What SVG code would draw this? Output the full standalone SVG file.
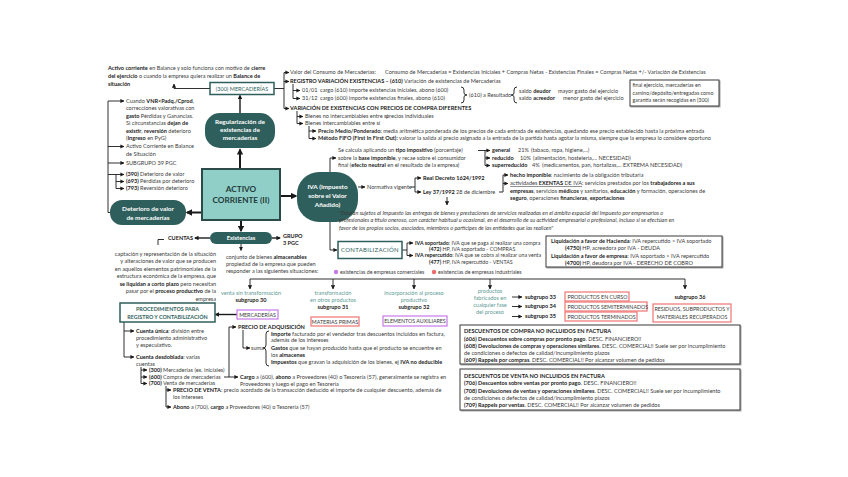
<svg xmlns="http://www.w3.org/2000/svg" width="848" height="477" viewBox="0 0 848 477">
<defs>
<marker id="ah" viewBox="0 0 10 10" refX="9" refY="5" markerWidth="4.5" markerHeight="4.5" orient="auto"><path d="M0,0L10,5L0,10z" fill="#1a1a1a"/></marker>
<marker id="ah2" viewBox="0 0 10 10" refX="8" refY="5" markerWidth="3.2" markerHeight="3.2" orient="auto"><path d="M0,0L10,5L0,10z" fill="#1a1a1a"/></marker>
<filter id="sh" x="-5%" y="-10%" width="110%" height="130%"><feDropShadow dx="1" dy="1" stdDeviation="0.6" flood-color="#000" flood-opacity="0.35"/></filter>
</defs>
<style>
text{font-family:Lato,"Open Sans","Liberation Sans",sans-serif;font-size:5.55px;fill:#3a3a3a}
.b{font-weight:bold;fill:#1a1a1a}
.i{font-style:italic}
.u{text-decoration:underline}
.w{fill:#fff;font-weight:bold;text-anchor:middle;font-size:6.4px}
.c{text-anchor:middle}
.e{text-anchor:end}
.sm{font-size:5.3px}
.tg{fill:#5e9a95}
.l{fill:none;stroke:#1a1a1a;stroke-width:0.9;marker-end:url(#ah)}
.p{fill:none;stroke:#1a1a1a;stroke-width:0.9}
.L{fill:none;stroke:#1a1a1a;stroke-width:2;marker-end:url(#ah2)}
.M{fill:none;stroke:#1a1a1a;stroke-width:1.4;marker-end:url(#ah2)}
.node{fill:#2f5f5c}
.tb{fill:#fff;stroke:#2f5f5c;stroke-width:1.5}
.tt{fill:#2f5f5c;font-weight:bold;text-anchor:middle;font-size:5.4px}
.ac{fill:#1f3b39;font-weight:bold;text-anchor:middle;font-size:8.2px}
.pv{fill:none;stroke:#c879ea;stroke-width:1.2}
.rd{fill:none;stroke:#f07474;stroke-width:1.2}
.bx{fill:#fff;stroke:#3a3a3a;stroke-width:1;filter:url(#sh)}
</style>
<rect width="848" height="477" fill="#fff"/>

<g id="connectors">
<path class="l" d="M210,88.5H174V84"/>
<path class="p" d="M274,88.5H284M284,72.5V108.5"/>
<path class="l" d="M284,72.5H289"/>
<path class="l" d="M284,81.5H289"/>
<path class="l" d="M284,108.5H289"/>
<path class="p" d="M293,84V98.5"/>
<path class="l" d="M293,90.5H300"/>
<path class="l" d="M293,98.5H300"/>
<path class="p" d="M297,111V123.5"/>
<path class="l" d="M297,116.5H303"/>
<path class="l" d="M297,123.5H303"/>
<path class="p" d="M309,126V138.5"/>
<path class="l" d="M309,131H316"/>
<path class="l" d="M309,138.5H316"/>
<path class="p" d="M461,87q3,0 3,3v3q0,2 3,2q-3,0-3,2v3q0,3-3,3"/>
<path class="p" d="M517,87q-3,0-3,3v3q0,2-3,2q3,0 3,2v3q0,3 3,3"/>
<path class="M" d="M240,113V95.5"/>
<path class="L" d="M240,169V149.5"/>
<path class="L" d="M280,196H296"/>
<path class="L" d="M202,212.5H187"/>
<path class="L" d="M241,220V231"/>
<path class="M" d="M272,238H280"/>
<path class="M" d="M210,238H195"/>
<path class="p" d="M158,245V239.5H164"/>
<path class="l" d="M241,244V250.5"/>
<path class="l" d="M110,212.5H108V101H124"/>
<path class="l" d="M108,146.5H124"/>
<path class="l" d="M108,163H124"/>
<path class="p" d="M108,174.5H116V188.5"/>
<path class="l" d="M116,174.5H124"/>
<path class="l" d="M116,181.5H124"/>
<path class="l" d="M116,188.5H124"/>
<path class="l" d="M330,172V158H336"/>
<path class="p" d="M478,150.5H485M485,150.5V165.5"/>
<path class="l" d="M485,150.5H490"/>
<path class="l" d="M485,158H490"/>
<path class="l" d="M485,165.5H490"/>
<path class="l" d="M358,187H365"/>
<path class="p" d="M411,187H415M415,178V192"/>
<path class="l" d="M415,178H421"/>
<path class="l" d="M415,192H421"/>
<path class="p" d="M499,192H503M503,175V192"/>
<path class="l" d="M503,175H508"/>
<path class="l" d="M503,183.5H508"/>
<path class="l" d="M447,197V205"/>
<path class="l" d="M330,222V250H337"/>
<path class="p" d="M402,250H407M407,243V255.5"/>
<path class="l" d="M407,243H413"/>
<path class="l" d="M407,255.5H413"/>
<path class="p" d="M250,279H685"/>
<path class="l" d="M250,279V289"/>
<path class="l" d="M333,279V289"/>
<path class="l" d="M414,279V289"/>
<path class="l" d="M490,279V289"/>
<path class="l" d="M685,279V289"/>
<path class="l" d="M512,297H522"/>
<path class="l" d="M512,306.5H522"/>
<path class="l" d="M512,316.5H522"/>
<path class="M" d="M237,314.5H215.5"/>
<path class="p" d="M124,322V357"/>
<path class="l" d="M124,331H134"/>
<path class="l" d="M124,357H134"/>
<path class="p" d="M141,367V383.5"/>
<path class="l" d="M141,370H147"/>
<path class="l" d="M141,377H147"/>
<path class="l" d="M141,383.5H147"/>
<path class="l" d="M224,377H238"/>
<path class="l" d="M229,377V327H236"/>
<path class="l" d="M243,330V348H250"/>
<path class="p" d="M269,331q-3,0-3,3v11q0,3-3,3q3,0 3,3v12q0,3 3,3"/>
<path class="p" d="M166,386V407"/>
<path class="l" d="M166,390H171"/>
<path class="l" d="M166,407H171"/>
</g>

<g id="intro">
<text x="108" y="70"><tspan class="b">Activo corriente</tspan> en Balance y solo funciona con motivo de <tspan class="b">cierre</tspan></text>
<text x="108" y="78"><tspan class="b">del ejercicio</tspan> o cuando la empresa quiera realizar un <tspan class="b">Balance de</tspan></text>
<text x="108" y="86"><tspan class="b">situación</tspan></text>
</g>

<g id="mercaderias300">
<rect class="tb" x="210" y="82.5" width="64" height="12"/>
<text class="c" x="242" y="90.6" style="fill:#2f5f5c">(300) MERCADERÍAS</text>
</g>

<g id="consumo">
<text x="290" y="74.3">Valor del Consumo de Mercaderías:</text>
<text x="385" y="74.3">Consumo de Mercaderías = Existencias Iniciales + Compras Netas - Existencias Finales = Compras Netas +/- Variación de Existencias</text>
<text x="290" y="83.3"><tspan class="b">REGISTRO VARIACIÓN EXISTENCIAS – (610)</tspan> Variación de existencias de Mercaderías</text>
<text x="302" y="92.3">01/01</text>
<text x="320" y="92.3">cargo (610) importe existencias iniciales, abono (600)</text>
<text x="302" y="100.3">31/12</text>
<text x="320" y="100.3">cargo (600) importe existencias finales, abono (610)</text>
<text x="469" y="96.8">(610) a Resultado</text>
<text x="519" y="92.8">saldo <tspan class="b">deudor</tspan></text>
<text x="558" y="92.8">mayor gasto del ejercicio</text>
<text x="519" y="100.3">saldo <tspan class="b">acreedor</tspan></text>
<text x="563" y="100.3">menor gasto del ejercicio</text>
<text x="290" y="110.3" class="b">VARIACIÓN DE EXISTENCIAS CON PRECIOS DE COMPRA DIFERENTES</text>
<text x="305" y="118.3">Bienes no intercambiables entre sí</text>
<text x="386" y="118.3">precios individuales</text>
<text x="305" y="125.3">Bienes intercambiables entre sí</text>
<text x="318" y="132.8"><tspan class="b">Precio Medio/Ponderado:</tspan> media aritmética ponderada de los precios de cada entrada de existencias, quedando ese precio establecido hasta la próxima entrada</text>
<text x="318" y="140.3"><tspan class="b">Método FIFO (First In First Out):</tspan> valorar la salida al precio asignado a la entrada de la partida hasta agotar la misma, siempre que la empresa lo considere oportuno</text>
</g>

<g id="final-ejercicio">
<rect class="bx" x="630" y="80" width="89" height="26"/>
<text x="632.5" y="87" class="sm">final ejercicio, mercaderías en</text>
<text x="632.5" y="94.5" class="sm">camino/depósito/entregadas como</text>
<text x="632.5" y="102" class="sm">garantía serán recogidas en (300)</text>
</g>

<g id="regularizacion">
<rect class="node" x="205" y="113" width="70" height="35" rx="15"/>
<text class="w" x="240" y="124">Regularización de</text>
<text class="w" x="240" y="132">existencias de</text>
<text class="w" x="240" y="140">mercaderías</text>
</g>

<g id="activo">
<rect x="202" y="169" width="78" height="51" fill="#8fcfc8" stroke="#2b4a48" stroke-width="2"/>
<text x="241" y="192" class="ac">ACTIVO</text>
<text x="241" y="202.5" class="ac">CORRIENTE (II)</text>
</g>

<g id="iva">
<rect class="node" x="297" y="172" width="61" height="50" rx="22"/>
<text class="w" x="327.5" y="189">IVA (Impuesto</text>
<text class="w" x="327.5" y="198">sobre el Valor</text>
<text class="w" x="327.5" y="207">Añadido)</text>
</g>

<g id="deterioro">
<rect class="node" x="110" y="200" width="76" height="25" rx="12"/>
<text class="w" x="148" y="211">Deterioro de valor</text>
<text class="w" x="148" y="219.5">de mercaderías</text>
</g>

<g id="deterioro-detalle">
<text x="126" y="102.8">Cuando <tspan class="b">VNR&lt;Padq./Cprod</tspan>,</text>
<text x="126" y="110.3">correcciones valorativas con</text>
<text x="126" y="117.8"><tspan class="b">gasto</tspan> Pérdidas y Ganancias.</text>
<text x="126" y="125.3">Si circunstancias <tspan class="b">dejan de</tspan></text>
<text x="126" y="132.8"><tspan class="b">existir</tspan>, <tspan class="b">reversión</tspan> deterioro</text>
<text x="126" y="140.3">(<tspan class="b">Ingreso</tspan> en PyG)</text>
<text x="126" y="148.3">Activo Corriente en Balance</text>
<text x="126" y="155.8">de Situación</text>
<text x="126" y="165">SUBGRUPO 39 PGC</text>
<text x="126" y="176.3"><tspan class="b">(390)</tspan> Deterioro de valor</text>
<text x="126" y="183.3"><tspan class="b">(693)</tspan> Pérdidas por deterioro</text>
<text x="126" y="190.3"><tspan class="b">(793)</tspan> Reversión deterioro</text>
</g>

<g id="existencias">
<rect class="node" x="210" y="232" width="62" height="12" rx="6"/>
<text class="w" x="241" y="240.2" style="font-size:5.8px">Existencias</text>
<text x="283" y="237.5" class="b">GRUPO</text>
<text x="283" y="244.5" class="b">3 PGC</text>
<text x="193" y="240" class="b e">CUENTAS</text>
</g>

<g id="definiciones">
<text class="e" x="216" y="255.5">captación y representación de la situación</text>
<text class="e" x="216" y="263">y alteraciones de valor que se producen</text>
<text class="e" x="216" y="270.5">en aquellos elementos patrimoniales de la</text>
<text class="e" x="216" y="278">estructura económica de la empresa, que</text>
<text class="e" x="216" y="285.5"><tspan class="b">se liquidan a corto plazo</tspan> pero necesitan</text>
<text class="e" x="216" y="293">pasar por el <tspan class="b">proceso productivo</tspan> de la</text>
<text class="e" x="216" y="300.5">empresa</text>
<text x="226" y="259">conjunto de bienes <tspan class="b">almacenables</tspan></text>
<text x="226" y="266">propiedad de la empresa que pueden</text>
<text x="226" y="273">responder a las siguientes situaciones:</text>
</g>

<g id="iva-detalle">
<text x="338" y="152.3">Se calcula aplicando un <tspan class="b">tipo impositivo</tspan> (porcentaje)</text>
<text x="338" y="159.8">sobre la <tspan class="b">base imponible</tspan>, y recae sobre el consumidor</text>
<text x="338" y="167.3">final (<tspan class="b">efecto neutral</tspan> en el resultado de la empresa)</text>
<text x="492" y="152.3" class="b">general</text>
<text x="518" y="152.3">21%</text>
<text x="531" y="152.3">(tabaco, ropa, higiene,...)</text>
<text x="492" y="159.8" class="b">reducido</text>
<text x="520" y="159.8">10%</text>
<text x="533" y="159.8">(alimentación, hostelería,... NECESIDAD)</text>
<text x="492" y="167.3" class="b">superreducido</text>
<text x="532" y="167.3">4%</text>
<text x="542" y="167.3">(medicamentos, pan, hortalizas,... EXTREMA NECESIDAD)</text>
<text x="367" y="188.8">Normativa vigente</text>
<text x="423" y="179.8" class="b">Real Decreto 1624/1992</text>
<text x="423" y="193.8"><tspan class="b">Ley 37/1992</tspan> 28 de diciembre</text>
<text x="510" y="176.8"><tspan class="b">hecho imponible</tspan>: nacimiento de la obligación tributaria</text>
<text x="510" y="185.3"><tspan class="u">actividades <tspan class="b">EXENTAS</tspan> DE IVA</tspan>: servicios prestados por los <tspan class="b">trabajadores a sus</tspan></text>
<text x="510" y="192.8"><tspan class="b">empresas</tspan>, servicios <tspan class="b">médicos</tspan> y sanitarios, <tspan class="b">educación</tspan> y formación, operaciones de</text>
<text x="510" y="200.3"><tspan class="b">seguro</tspan>, operaciones <tspan class="b">financieras</tspan>, <tspan class="b">exportaciones</tspan></text>
<text x="339" y="214.5" class="i">"Estarán sujetos al Impuesto las entregas de bienes y prestaciones de servicios realizadas en el ámbito espacial del Impuesto por empresarios o</text>
<text x="339" y="222" class="i">profesionales a título oneroso, con carácter habitual u ocasional, en el desarrollo de su actividad empresarial o profesional, incluso si se efectúan en</text>
<text x="339" y="229.5" class="i">favor de los propios socios, asociados, miembros o partícipes de las entidades que las realicen"</text>
</g>

<g id="contabilizacion">
<rect class="tb" x="338" y="241.5" width="64" height="17"/>
<text class="c" x="370" y="252.2" style="fill:#2f5f5c;font-size:6px;letter-spacing:0.3px">CONTABILIZACIÓN</text>
<text x="415" y="244.8" class="sm"><tspan class="b">IVA soportado</tspan>: IVA que se paga al realizar una compra</text>
<text x="429" y="251" class="sm"><tspan class="b">(472)</tspan> HP, IVA soportado - COMPRAS</text>
<text x="415" y="257.3" class="sm"><tspan class="b">IVA repercutido</tspan>: IVA que se cobra al realizar una venta</text>
<text x="429" y="263.5" class="sm"><tspan class="b">(477)</tspan> HP, IVA repercutido - VENTAS</text>
</g>

<g id="liquidacion">
<rect class="bx" x="546" y="236" width="176" height="31" stroke-width="1.2"/>
<text x="551" y="243.3"><tspan class="b">Liquidación a favor de Hacienda</tspan>: IVA repercutido &gt; IVA soportado</text>
<text x="565" y="250.3"><tspan class="b">(4750)</tspan> HP, acreedora por IVA - DEUDA</text>
<text x="551" y="258"><tspan class="b">Liquidación a favor de empresa</tspan>: IVA soportado &gt; IVA repercutido</text>
<text x="565" y="265"><tspan class="b">(4700)</tspan> HP, deudora por IVA - DERECHO DE COBRO</text>
</g>

<g id="leyenda">
<circle cx="336" cy="272" r="2.2" fill="#c879ea"/>
<text x="340" y="274" class="sm">existencias de empresas comerciales</text>
<circle cx="434" cy="272" r="2.2" fill="#f06b6b"/>
<text x="438" y="274" class="sm">existencias de empresas industriales</text>
</g>

<g id="subgrupos">
<text class="c tg" x="251" y="295">venta sin transformación</text>
<text class="c b" x="251" y="302">subgrupo 30</text>
<text class="c tg" x="333" y="295">transformación</text>
<text class="c tg" x="333" y="302">en otros productos</text>
<text class="c b" x="333" y="309">subgrupo 31</text>
<text class="c tg" x="414" y="295">incorporación al proceso</text>
<text class="c tg" x="414" y="302">productivo</text>
<text class="c b" x="414" y="309">subgrupo 32</text>
<text class="c tg" x="490" y="293">productos</text>
<text class="c tg" x="490" y="300">fabricados en</text>
<text class="c tg" x="490" y="307">cualquier fase</text>
<text class="c tg" x="490" y="314">del proceso</text>
<text class="b" x="525" y="298.8">subgrupo 33</text>
<text class="b" x="525" y="308.3">subgrupo 34</text>
<text class="b" x="525" y="318.3">subgrupo 35</text>
<text class="b c" x="690" y="298.8">subgrupo 36</text>
</g>

<g id="mercaderias">
<rect class="pv" x="237" y="310" width="41" height="9"/>
<text class="c sm" x="257.5" y="316.8">MERCADERÍAS</text>
</g>
<g id="materias-primas">
<rect class="rd" x="311" y="317" width="48" height="9"/>
<text class="c sm" x="335" y="323.8">MATERIAS PRIMAS</text>
</g>
<g id="elementos-auxiliares">
<rect class="pv" x="383" y="316" width="64" height="10" stroke-width="1.6"/>
<text class="c sm" x="415" y="323.3">ELEMENTOS AUXILIARES</text>
</g>
<g id="productos">
<rect class="rd" x="565" y="292" width="64" height="9"/>
<text x="567.5" y="298.8" class="sm">PRODUCTOS EN CURSO</text>
<rect class="rd" x="565" y="302" width="82" height="9"/>
<text x="567.5" y="308.8" class="sm">PRODUCTOS SEMITERMINADOS</text>
<rect class="rd" x="565" y="312" width="72" height="9"/>
<text x="567.5" y="318.8" class="sm">PRODUCTOS TERMINADOS</text>
</g>
<g id="residuos">
<rect class="rd" x="653" y="304" width="78" height="18"/>
<text class="c sm" x="692" y="311.3">RESIDUOS, SUBPRODUCTOS Y</text>
<text class="c sm" x="692" y="319">MATERIALES RECUPERADOS</text>
</g>

<g id="procedimientos">
<rect class="tb" x="120" y="303" width="95" height="19"/>
<text class="tt" x="167.5" y="311">PROCEDIMIENTOS PARA</text>
<text class="tt" x="167.5" y="318.5">REGISTRO Y CONTABILIZACIÓN</text>
</g>

<g id="cuentas-detalle">
<text x="136" y="332.8"><tspan class="b">Cuenta única</tspan>: división entre</text>
<text x="136" y="339.8">procedimiento administrativo</text>
<text x="136" y="346.8">y especulativo.</text>
<text x="136" y="358.8"><tspan class="b">Cuenta desdoblada</tspan>: varias</text>
<text x="136" y="365.8">cuentas</text>
<text x="149" y="371.8"><tspan class="b">(300)</tspan> Mercaderías (ex. iniciales)</text>
<text x="149" y="378.8"><tspan class="b">(600)</tspan> Compra de mercaderías</text>
<text x="149" y="385.3"><tspan class="b">(700)</tspan> Venta de mercaderías</text>
<text x="238" y="328.8" class="b">PRECIO DE ADQUISICIÓN</text>
<text x="251" y="349.8">suma</text>
<text x="271" y="335.5"><tspan class="b">Importe</tspan> facturado por el vendedor tras descuentos incluidos en factura,</text>
<text x="271" y="342.3">además de los intereses</text>
<text x="271" y="349.8"><tspan class="b">Gastos</tspan> que se hayan producido hasta que el producto se encuentre en</text>
<text x="271" y="356.6">los <tspan class="b">almacenes</tspan></text>
<text x="271" y="363.8"><tspan class="b">Impuestos</tspan> que gravan la adquisición de los bienes, ej <tspan class="b">IVA no deducible</tspan></text>
<text x="240" y="378.8"><tspan class="b">Cargo</tspan> a (600), <tspan class="b">abono</tspan> a Proveedores (40) o Tesorería (57), generalmente se registra en</text>
<text x="240" y="385.5">Proveedores y luego el pago en Tesorería</text>
<text x="173" y="391.8"><tspan class="b">PRECIO DE VENTA</tspan>: precio  acordado de la transacción deducido el importe de cualquier descuento, además de</text>
<text x="173" y="398.8">los intereses</text>
<text x="173" y="408.8"><tspan class="b">Abono</tspan> a (700), <tspan class="b">cargo</tspan> a Proveedores (40) o Tesorería (57)</text>
</g>

<g id="descuentos-compra">
<rect class="bx" x="460" y="325" width="280" height="39"/>
<text x="464" y="333" class="b">DESCUENTOS DE COMPRA NO INCLUIDOS EN FACTURA</text>
<text x="464" y="340.5"><tspan class="b">(606) Descuentos sobre compras por pronto pago</tspan>. DESC. FINANCIERO!!</text>
<text x="464" y="348"><tspan class="b">(608) Devoluciones de compras y operaciones similares</tspan>. DESC. COMERCIAL!! Suele ser por incumplimiento</text>
<text x="464" y="355">de condiciones o defectos de calidad/incumplimiento plazos</text>
<text x="464" y="362"><tspan class="b">(609) Rappels por compras</tspan>. DESC. COMERCIAL!! Por alcanzar volumen de pedidos</text>
</g>

<g id="descuentos-venta">
<rect class="bx" x="460" y="369" width="280" height="41"/>
<text x="464" y="377.5" class="b">DESCUENTOS DE VENTA NO INCLUIDOS EN FACTURA</text>
<text x="464" y="385"><tspan class="b">(706) Descuentos sobre ventas por pronto pago</tspan>. DESC. FINANCIERO!!</text>
<text x="464" y="392.5"><tspan class="b">(708) Devoluciones de ventas y operaciones similares</tspan>. DESC. COMERCIAL!! Suele ser por incumplimiento</text>
<text x="464" y="399.5">de condiciones o defectos de calidad/incumplimiento plazos</text>
<text x="464" y="407"><tspan class="b">(709) Rappels por ventas</tspan>. DESC. COMERCIAL!! Por alcanzar volumen de pedidos</text>
</g>
</svg>
